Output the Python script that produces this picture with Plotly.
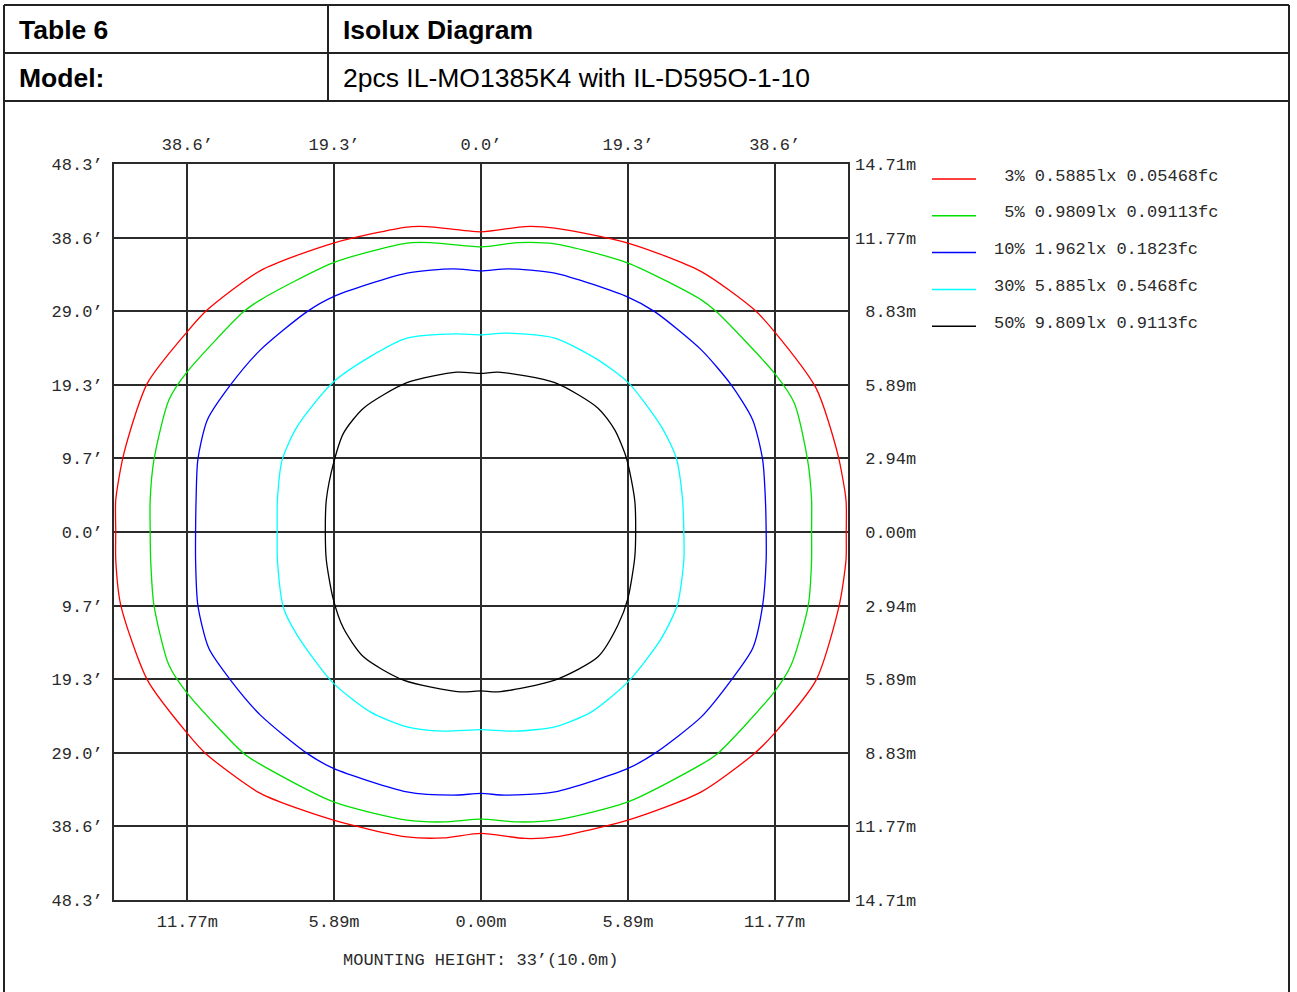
import plotly.graph_objects as go

W, H = 1297, 992

# ---------------- data (metres) ----------------
iso3_x = [0, 1.76, 2.96, 5.89, 8.83, 10.96, 11.76, 13.43, 14.29, 14.63, 14.64,
          14.63, 14.36, 13.43, 11.76, 10.96, 8.83, 5.89, 2.96, 1.76, 0,
          -1.51, -2.97, -5.91, -8.84, -11.04, -11.77, -13.37, -14.44, -14.64, -14.64,
          -14.64, -14.31, -13.37, -11.77, -10.97, -8.84, -5.91, -2.97, -2.17, 0]
iso3_y = [12.0, 12.21, 12.15, 11.55, 10.41, 8.88, 8.01, 5.75, 3.15, 1.28, 0,
          -1.12, -2.92, -5.92, -8.05, -8.85, -10.39, -11.52, -12.19, -12.25, -12.05,
          -12.23, -12.19, -11.52, -10.45, -8.85, -8.05, -5.92, -2.92, -1.12, 0,
          1.28, 3.15, 5.95, 8.01, 8.88, 10.45, 11.55, 12.19, 12.21, 12.0]

iso5_x = [0, 1.49, 2.96, 5.89, 8.83, 9.43, 11.76, 12.56, 13.09, 13.25, 13.25,
          13.25, 13.12, 12.43, 11.76, 9.49, 8.83, 5.89, 2.96, 1.49, 0,
          -1.51, -2.97, -5.91, -8.84, -9.51, -11.77, -12.51, -13.11, -13.24, -13.26,
          -13.26, -13.11, -12.51, -11.77, -9.51, -8.84, -5.91, -2.97, -2.04, 0]
iso5_y = [11.4, 11.57, 11.52, 10.75, 9.28, 8.81, 6.35, 5.15, 2.88, 1.28, 0,
          -1.12, -2.92, -5.32, -6.39, -8.85, -9.29, -10.79, -11.52, -11.59, -11.48,
          -11.59, -11.52, -10.79, -9.29, -8.85, -6.45, -5.32, -2.92, -1.12, 0,
          1.28, 2.88, 5.28, 6.41, 8.81, 9.28, 10.77, 11.55, 11.57, 11.4]

iso10_x = [0, 1.09, 2.96, 5.89, 6.96, 8.83, 10.03, 10.89, 11.29, 11.40, 11.43,
           11.43, 11.29, 10.89, 10.03, 8.83, 6.96, 5.89, 2.96, 0.96, 0,
           -1.11, -2.97, -5.91, -6.97, -8.84, -10.04, -10.91, -11.35, -11.44, -11.44,
           -11.42, -11.35, -10.97, -10.04, -8.84, -6.97, -5.91, -2.97, -1.11, 0]
iso10_y = [10.44, 10.52, 10.35, 9.39, 8.81, 7.28, 5.88, 4.48, 2.88, 1.28, 0,
           -1.12, -2.92, -4.65, -5.92, -7.39, -8.85, -9.45, -10.39, -10.52, -10.45,
           -10.52, -10.39, -9.45, -8.85, -7.32, -5.92, -4.65, -2.92, -1.12, 0,
           1.28, 2.88, 4.48, 5.88, 7.28, 8.81, 9.41, 10.35, 10.52, 10.44]

iso30_x = [0, 0.96, 2.96, 4.69, 5.92, 7.23, 7.83, 8.08, 8.13,
           8.13, 7.87, 7.23, 5.92, 4.43, 2.96, 1.36, 0,
           -1.51, -2.97, -4.44, -5.97, -7.37, -7.91, -8.16, -8.17,
           -8.16, -7.97, -7.37, -5.97, -4.44, -2.97, -0.97, 0]
iso30_y = [7.88, 7.95, 7.75, 6.88, 5.95, 4.21, 2.95, 1.28, 0,
           -1.12, -2.92, -4.25, -5.96, -7.19, -7.79, -7.96, -7.9,
           -7.96, -7.79, -7.19, -5.99, -4.12, -3.05, -1.12, 0,
           1.28, 2.88, 4.21, 5.95, 7.01, 7.75, 7.92, 7.88]

iso50_x = [0, 0.69, 2.96, 4.69, 5.36, 5.83, 6.16, 6.20,
           6.16, 5.89, 5.49, 4.69, 2.96, 0.69, 0,
           -0.84, -3.11, -4.71, -5.51, -5.93, -6.20, -6.24,
           -6.20, -5.91, -5.51, -4.71, -2.97, -0.97, 0]
iso50_y = [6.34, 6.39, 5.97, 4.95, 4.08, 2.95, 1.28, 0,
           -1.04, -2.65, -3.72, -4.99, -5.92, -6.39, -6.35,
           -6.39, -5.92, -4.99, -3.85, -2.65, -1.12, 0,
           1.28, 2.75, 3.95, 4.95, 5.97, 6.39, 6.34]

levels = ["3%", "5%", "10%", "30%", "50%"]
lux = ["0.5885lx", "0.9809lx", "1.962lx", "5.885lx", "9.809lx"]
fc = ["0.05468fc", "0.09113fc", "0.1823fc", "0.5468fc", "0.9113fc"]
colors = ["#ff0000", "#00e000", "#0000ff", "#00ffff", "#000000"]

grid_m = [-14.71, -11.77, -8.83, -5.89, -2.94, 0.0, 2.94, 5.89, 8.83, 11.77, 14.71]
left_ft = ["48.3’", "38.6’", "29.0’", "19.3’", "9.7’", "0.0’", "9.7’", "19.3’", "29.0’", "38.6’", "48.3’"]
right_m = ["14.71m", "11.77m", "8.83m", "5.89m", "2.94m", "0.00m", "2.94m", "5.89m", "8.83m", "11.77m", "14.71m"]
x_ticks_m = [-11.77, -5.89, 0.0, 5.89, 11.77]
top_ft = ["38.6’", "19.3’", "0.0’", "19.3’", "38.6’"]
bottom_m = ["11.77m", "5.89m", "0.00m", "5.89m", "11.77m"]

header_left = ["Table 6", "Model:"]
header_right = ["Isolux Diagram", "2pcs IL-MO1385K4 with IL-D595O-1-10"]
mounting = "MOUNTING HEIGHT: 33’(10.0m)"

# ---------------- figure ----------------
MONO = "Liberation Mono"
TXT = "#2a2a2a"
GRID = "#2b2b2b"


def px(p):
    return p / W


def py(p):
    return 1 - p / H


fig = go.Figure()
contours = [(iso3_x, iso3_y), (iso5_x, iso5_y), (iso10_x, iso10_y),
            (iso30_x, iso30_y), (iso50_x, iso50_y)]
for (xs, ys), c in zip(contours, colors):
    fig.add_trace(go.Scatter(x=xs, y=ys, mode="lines",
                             line=dict(color=c, width=1.3, shape="spline", smoothing=0.7),
                             showlegend=False, hoverinfo="skip"))
# empty trace to activate the secondary (top / right) axes
fig.add_trace(go.Scatter(x=[], y=[], xaxis="x2", yaxis="y2", showlegend=False))

rng = [-14.71, 14.71]
xdom = [px(114), px(848)]
ydom = [py(900), py(164)]
tickfont = dict(family=MONO, size=17, color=TXT)

fig.update_layout(
    width=W, height=H, margin=dict(l=0, r=0, t=0, b=0, pad=0, autoexpand=False),
    paper_bgcolor="white", plot_bgcolor="white",
    xaxis=dict(domain=xdom, range=rng, tick0=0, dtick=2.942, showgrid=True,
               gridcolor=GRID, gridwidth=2, zeroline=False, automargin=False,
               showline=True, linecolor=GRID, linewidth=2, mirror=True,
               tickmode="array", tickvals=x_ticks_m, ticktext=bottom_m,
               ticks="", tickfont=tickfont, ticklabelstandoff=5, fixedrange=True),
    yaxis=dict(domain=ydom, range=rng, showgrid=True,
               gridcolor=GRID, gridwidth=2, zeroline=False, automargin=False,
               showline=True, linecolor=GRID, linewidth=2, mirror=True,
               tickmode="array", tickvals=grid_m, ticktext=left_ft,
               ticks="", tickfont=tickfont, ticklabelstandoff=6, fixedrange=True),
    xaxis2=dict(overlaying="x", side="top", anchor="y", range=rng, showgrid=False,
                zeroline=False, automargin=False, tickmode="array", tickvals=x_ticks_m,
                ticktext=top_ft, ticks="", tickfont=tickfont, ticklabelstandoff=10,
                fixedrange=True),
    yaxis2=dict(overlaying="y", side="right", anchor="x", range=rng, showgrid=False,
                zeroline=False, automargin=False, tickmode="array", tickvals=grid_m,
                ticktext=[("\u00a0" + t) if len(t) < 6 else t for t in right_m],
                ticks="", tickfont=tickfont, ticklabelstandoff=6, fixedrange=True),
)

shapes = []
line_style = dict(color="#222", width=2)
# page frame and table rules
shapes.append(dict(type="line", xref="paper", yref="paper", x0=px(4), x1=px(4), y0=py(5), y1=py(995), line=line_style))
shapes.append(dict(type="line", xref="paper", yref="paper", x0=px(1289), x1=px(1289), y0=py(5), y1=py(995), line=line_style))
for yy in (5, 53, 101):
    shapes.append(dict(type="line", xref="paper", yref="paper", x0=px(4), x1=px(1289), y0=py(yy), y1=py(yy), line=line_style))
shapes.append(dict(type="line", xref="paper", yref="paper", x0=px(328), x1=px(328), y0=py(5), y1=py(101), line=line_style))

annotations = []
for i, (a, b) in enumerate(zip(header_left, header_right)):
    yc = py(30 + 48 * i)
    annotations.append(dict(x=px(17), y=yc, xref="paper", yref="paper", text="<b>%s</b>" % a,
                            showarrow=False, xanchor="left", yanchor="middle",
                            font=dict(family="Liberation Sans", size=26.5, color="#000")))
    annotations.append(dict(x=px(341), y=yc, xref="paper", yref="paper",
                            text=("<b>%s</b>" % b) if i == 0 else b,
                            showarrow=False, xanchor="left", yanchor="middle",
                            font=dict(family="Liberation Sans", size=26.5, color="#000")))

# legend (line samples + labels)
for i, (lv, lx, f, c) in enumerate(zip(levels, lux, fc, colors)):
    yl = 179 + 36.8 * i
    shapes.append(dict(type="line", xref="paper", yref="paper", x0=px(932), x1=px(976),
                       y0=py(yl), y1=py(yl), line=dict(color=c, width=1.5)))
    label = ("\u00a0" if len(lv) < 3 else "") + "%s %s %s" % (lv, lx, f)
    annotations.append(dict(x=px(992), y=py(yl - 3), xref="paper", yref="paper", text=label,
                            showarrow=False, xanchor="left", yanchor="middle",
                            font=dict(family=MONO, size=17, color=TXT)))

annotations.append(dict(x=px(480), y=py(960), xref="paper", yref="paper", text=mounting,
                        showarrow=False, xanchor="center", yanchor="middle",
                        font=dict(family=MONO, size=17, color=TXT)))

fig.update_layout(shapes=shapes, annotations=annotations)
fig.write_html("out.html", config={"displayModeBar": False, "staticPlot": True},
               post_script="document.body.style.margin='0';document.body.style.overflow='hidden';")
